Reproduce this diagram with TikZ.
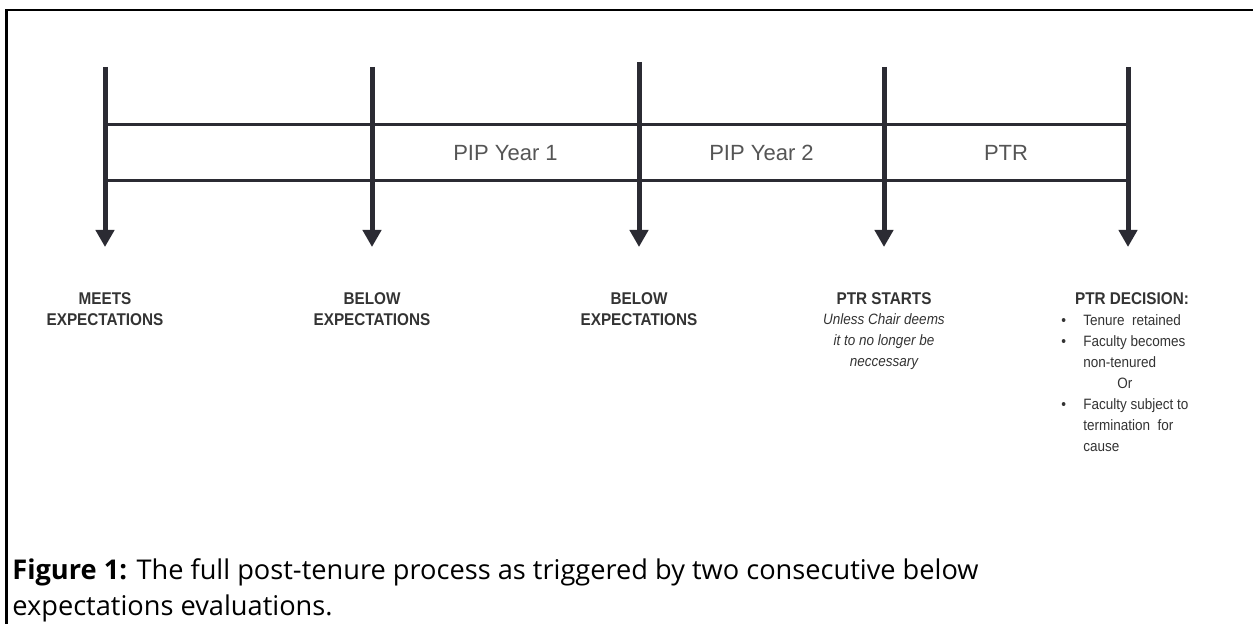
\documentclass[tikz,border=0pt]{standalone}
\usepackage{fontspec}
\setmainfont{Liberation Sans}
\newfontfamily\narrowfont[FakeStretch=0.9]{Liberation Sans}
\newfontfamily\capfont{Open Sans}
\usetikzlibrary{arrows.meta,positioning}

\definecolor{inkline}{HTML}{2B2B33}
\definecolor{inktext}{HTML}{333333}
\definecolor{inkphase}{HTML}{555555}

\tikzset{
  evtarrow/.style={inkline, line width=2.5pt,
    -{Triangle[length=8.5pt,width=9pt]}},
  bandline/.style={inkline, line width=1.5pt},
  phase/.style={inkphase, font=\fontsize{11}{13}\selectfont, inner sep=0pt},
  evthead/.style={inktext, align=center, inner sep=0pt,
    font=\narrowfont\bfseries\fontsize{8.5}{10.5}\selectfont},
  evtnote/.style={inktext, align=center, inner sep=0pt,
    font=\narrowfont\itshape\fontsize{7.5}{10.5}\selectfont},
  evtlist/.style={inktext, inner sep=0pt,
    font=\narrowfont\fontsize{7.5}{10.5}\selectfont},
}

\begin{document}
\begin{tikzpicture}[x=0.5pt,y=-0.5pt]
    \useasboundingbox (0,0) rectangle (1253,624);
    % 枠線（上と左だけ）
    \draw[line width=1.5pt] (6,624) -- (6,10);
    \draw[line width=1pt] (5.25,10) -- (1253,10);

    % 評価時点の矢印と帯
    \foreach \n/\x/\t in {1/105/67,2/372/67,3/639/62,4/884/67,5/1128/67}{
        \coordinate (top\n) at (\x,\t);
        \coordinate (tip\n) at (\x,247);
        \coordinate (up\n) at (\x,125);
        \coordinate (lo\n) at (\x,181);
    }
    \draw[bandline] (up1) -- (up5);
    \draw[bandline] (lo1) -- (lo5);
    \foreach \n in {1,...,5}{
        \draw[evtarrow] (top\n) -- (tip\n);
    }

    % 帯の中の期間
    \path (up2) -- (lo3) node[midway, phase] (pip1) {PIP Year 1};
    \path (up3) -- (lo4) node[midway, phase] (pip2) {PIP Year 2};
    \path (up4) -- (lo5) node[midway, phase] (ptr) {PTR};

    % 各時点の結果
    \node[evthead, below=22.5pt of tip1] (meets) {MEETS\\EXPECTATIONS};
    \node[evthead, below=22.5pt of tip2] (below1) {BELOW\\EXPECTATIONS};
    \node[evthead, below=22.5pt of tip3] (below2) {BELOW\\EXPECTATIONS};
    \node[evthead, below=22.5pt of tip4] (ptrstart) {PTR STARTS};
    \node[evtnote, below=4pt of ptrstart] (ptrnote)
        {Unless Chair deems\\it to no longer be\\neccessary};
    \node[evthead, below=22.5pt of tip5, xshift=2pt] (ptrdec) {PTR DECISION:};
    \node[evtlist, anchor=north west] (declist) at (1061,310) {%
        \begin{tabular}{@{}p{11pt}@{}l@{}}
        \textbullet & Tenure\ \ retained\\
        \textbullet & Faculty becomes\\
                    & non-tenured\\
                    & \hspace*{17pt}Or\\
        \textbullet & Faculty subject to\\
                    & termination\ \ for\\
                    & cause
        \end{tabular}};

    % 図の説明文
    \node[anchor=north west, align=left, inner sep=0pt,
          font=\capfont\fontsize{13.6}{18}\selectfont] (caption) at (12,558)
        {\textbf{Figure 1:} The full post-tenure process as triggered by two consecutive below\\
         expectations evaluations.};
\end{tikzpicture}
\end{document}
